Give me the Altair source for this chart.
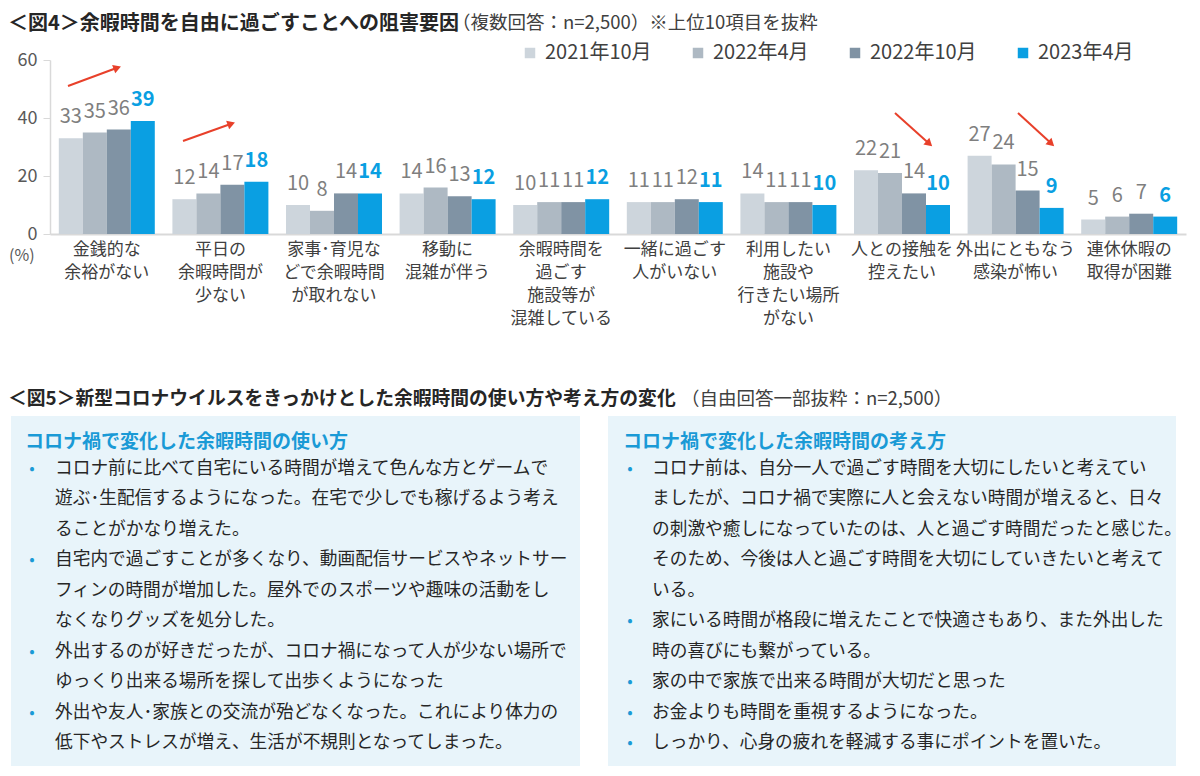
import math
import altair as alt
import pandas as pd

FONT = "Noto Sans CJK JP"

# ---------------- data ----------------
categories = [
    "金銭的な|余裕がない",
    "平日の|余暇時間が|少ない",
    "家事･育児な|どで余暇時間|が取れない",
    "移動に|混雑が伴う",
    "余暇時間を|過ごす|施設等が|混雑している",
    "一緒に過ごす|人がいない",
    "利用したい|施設や|行きたい場所|がない",
    "人との接触を|控えたい",
    "外出にともなう|感染が怖い",
    "連休休暇の|取得が困難",
]
series = ["2021年10月", "2022年4月", "2022年10月", "2023年4月"]
values_2021_10 = [33, 12, 10, 14, 10, 11, 14, 22, 27, 5]
values_2022_04 = [35, 14, 8, 16, 11, 11, 11, 21, 24, 6]
values_2022_10 = [36, 17, 14, 13, 11, 12, 11, 14, 15, 7]
values_2023_04 = [39, 18, 14, 12, 12, 11, 10, 10, 9, 6]
series_colors = ["#cdd5dc", "#aeb9c3", "#8093a4", "#0a9fe2"]
y_ticks = [0, 20, 40, 60]

title4 = "＜図4＞余暇時間を自由に過ごすことへの阻害要因"
sub4 = "（複数回答：n=2,500）※上位10項目を抜粋"
title5 = "＜図5＞新型コロナウイルスをきっかけとした余暇時間の使い方や考え方の変化"
sub5 = "（自由回答一部抜粋：n=2,500）"
head_left = "コロナ禍で変化した余暇時間の使い方"
head_right = "コロナ禍で変化した余暇時間の考え方"
items_left = [
    ["コロナ前に比べて自宅にいる時間が増えて色んな方とゲームで",
     "遊ぶ･生配信するようになった。在宅で少しでも稼げるよう考え",
     "ることがかなり増えた。"],
    ["自宅内で過ごすことが多くなり、動画配信サービスやネットサー",
     "フィンの時間が増加した。屋外でのスポーツや趣味の活動をし",
     "なくなりグッズを処分した。"],
    ["外出するのが好きだったが、コロナ禍になって人が少ない場所で",
     "ゆっくり出来る場所を探して出歩くようになった"],
    ["外出や友人･家族との交流が殆どなくなった。これにより体力の",
     "低下やストレスが増え、生活が不規則となってしまった。"],
]
items_right = [
    ["コロナ前は、自分一人で過ごす時間を大切にしたいと考えてい",
     "ましたが、コロナ禍で実際に人と会えない時間が増えると、日々",
     "の刺激や癒しになっていたのは、人と過ごす時間だったと感じた。",
     "そのため、今後は人と過ごす時間を大切にしていきたいと考えて",
     "いる。"],
    ["家にいる時間が格段に増えたことで快適さもあり、また外出した",
     "時の喜びにも繋がっている。"],
    ["家の中で家族で出来る時間が大切だと思った"],
    ["お金よりも時間を重視するようになった。"],
    ["しっかり、心身の疲れを軽減する事にポイントを置いた。"],
]

rows = []
for s, vals in zip(series, [values_2021_10, values_2022_04, values_2022_10, values_2023_04]):
    for c, v in zip(categories, vals):
        rows.append({"cat": c, "series": s, "value": v})
df = pd.DataFrame(rows)

# ---------------- layout ----------------
OX, OY = 50, 60          # page position of plot origin
W, H = 1136, 174
TOTAL_H = 758

def px(x):
    return x - OX

def py(y):
    return y - OY

one = pd.DataFrame({"k": [0]})
TEXT = "#262626"
GRAY = "#7f7f7f"
BLUE = "#0a9fe2"
HEAD_BLUE = "#1a9ad6"
RED = "#e8402a"
BOX = "#e8f4fa"


def text_layer(s, x, y, size, color, weight="normal", align="left", baseline="middle", lh=None):
    # y is the desired visual centre for "middle"
    if baseline == "middle":
        y = y + 0.08 * size
    kw = dict(text=s, font=FONT, fontSize=size, color=color, fontWeight=weight,
              align=align, baseline=baseline)
    if lh is not None:
        kw["lineHeight"] = lh
    return alt.Chart(one).mark_text(**kw).encode(x=alt.value(px(x)), y=alt.value(py(y)))


def rect_layer(x1, y1, x2, y2, color):
    return alt.Chart(one).mark_rect(color=color).encode(
        x=alt.value(px(x1)), x2=alt.value(px(x2)), y=alt.value(py(y1)), y2=alt.value(py(y2)))


layers = []
# background boxes
layers.append(rect_layer(11, 416, 580, 766, BOX))
layers.append(rect_layer(608, 416, 1176, 766, BOX))

# titles
layers.append(text_layer(title4, 8, 22, 20, TEXT, weight="bold"))
layers.append(text_layer(sub4, 452, 22, 18.5, "#404040"))
layers.append(text_layer(title5, 8, 397, 18.8, TEXT, weight="bold"))
layers.append(text_layer(sub5, 681, 398, 18.5, "#404040"))
layers.append(text_layer("(%)", 9, 255, 16, "#595959"))

# box headings
layers.append(text_layer(head_left, 25, 440, 19, HEAD_BLUE, weight="bold"))
layers.append(text_layer(head_right, 623, 440, 19, HEAD_BLUE, weight="bold"))

# box bodies
LH = 30.45
FS = 17.7
first_base = 467 + round(0.37 * FS)
for items, bx, tx in [(items_left, 32, 55), (items_right, 630, 652)]:
    lines = []
    for it in items:
        start = len(lines)
        lines.extend(it)
        layers.append(text_layer("•", bx, first_base + start * LH, 16, HEAD_BLUE,
                                 align="center", baseline="alphabetic"))
    layers.append(text_layer(lines, tx, first_base, FS, TEXT, baseline="alphabetic", lh=LH))

# ---------------- bar chart ----------------
x_enc = alt.X(
    "cat:N", sort=categories,
    scale=alt.Scale(paddingInner=0.155, paddingOuter=0.0775),
    axis=alt.Axis(title=None, labelExpr="split(datum.label, '|')", labelAngle=0,
                  labelFontSize=17, labelFont=FONT, labelColor="#404040",
                  labelLineHeight=23.3, labelPadding=7, ticks=False, tickSize=0,
                  labelOverlap=False, labelBaseline="top",
                  domainColor="#d9d9d9", domainWidth=2),
)
xo_enc = alt.XOffset("series:N", sort=series, scale=alt.Scale(paddingInner=0, paddingOuter=0))
y_enc = alt.Y(
    "value:Q", scale=alt.Scale(domain=[0, 60], nice=False),
    axis=alt.Axis(title=None, values=y_ticks, grid=False, labelFontSize=18, labelFont=FONT,
                  labelColor="#595959", domainColor="#d9d9d9", domainWidth=1.5,
                  tickColor="#d9d9d9", tickSize=7, labelPadding=6),
)

bars = alt.Chart(df).mark_bar().encode(
    x=x_enc, xOffset=xo_enc, y=y_enc,
    color=alt.Color(
        "series:N", sort=series,
        scale=alt.Scale(domain=series, range=series_colors),
        legend=alt.Legend(title=None, orient="none", legendX=470, legendY=-17,
                          direction="horizontal", labelFontSize=20, labelFont=FONT,
                          labelColor="#404040", symbolType="square", symbolSize=110,
                          symbolStrokeWidth=0, columnPadding=36, labelOffset=5, padding=0),
    ),
)
lab_gray = alt.Chart(df).transform_filter(alt.datum.series != "2023年4月").mark_text(
    font=FONT, fontSize=20, color=GRAY, baseline="alphabetic", dy=-15
).encode(x=x_enc, xOffset=xo_enc, y=y_enc, text="value:Q")
lab_blue = alt.Chart(df).transform_filter(alt.datum.series == "2023年4月").mark_text(
    font=FONT, fontSize=20, color=BLUE, fontWeight="bold", baseline="alphabetic", dy=-15
).encode(x=x_enc, xOffset=xo_enc, y=y_enc, text="value:Q")

layers += [bars, lab_gray, lab_blue]

# ---------------- arrows (annotations) ----------------
arrows = [((68, 86), (122, 66)), ((183, 141), (236, 122)),
          ((895, 113), (933, 147)), ((1018, 113), (1055, 147))]
for (x0, y0), (x1, y1) in arrows:
    dx, dy = x1 - x0, y1 - y0
    L = math.hypot(dx, dy)
    ux, uy = dx / L, dy / L
    ex, ey = x1 - ux * 8, y1 - uy * 8
    hx, hy = x1 - ux * 5, y1 - uy * 5
    ang = math.degrees(math.atan2(dx, -dy)) % 360
    layers.append(alt.Chart(one).mark_rule(color=RED, strokeWidth=2).encode(
        x=alt.value(px(x0)), y=alt.value(py(y0)), x2=alt.value(px(ex)), y2=alt.value(py(ey))))
    layers.append(alt.Chart(one).mark_point(shape="triangle-up", filled=True, size=80,
                                            color=RED, opacity=1, angle=ang).encode(
        x=alt.value(px(hx)), y=alt.value(py(hy))))

chart = alt.layer(*layers).properties(
    width=W, height=H,
    autosize=alt.AutoSizeParams(type="none"),
    padding={"left": OX - 8, "top": OY - 8, "right": 6, "bottom": TOTAL_H - (OY - 8) - H},
).configure(font=FONT).configure_view(stroke="transparent")

chart.save("out.html", embed_options={"renderer": "svg", "actions": False})
